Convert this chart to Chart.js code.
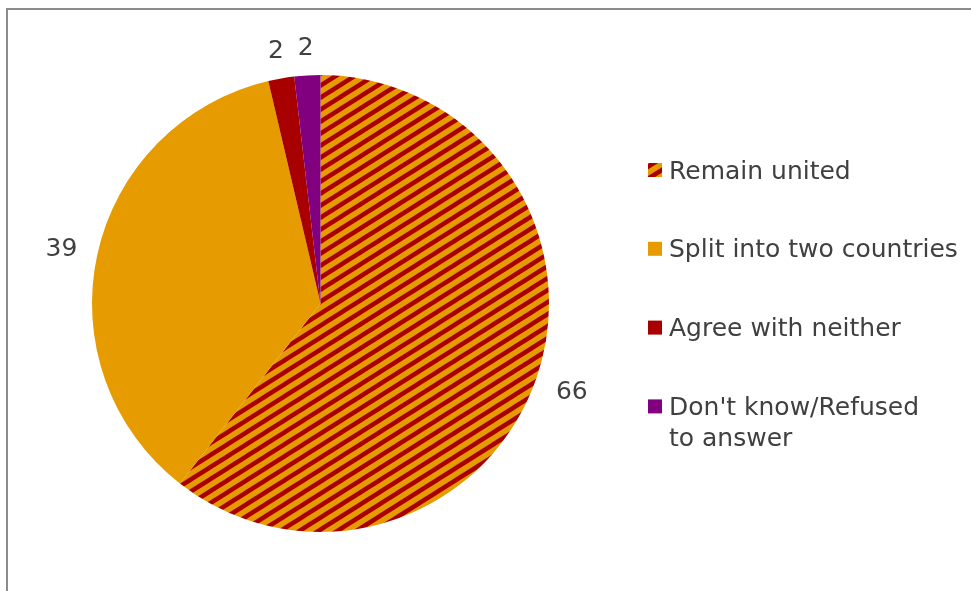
<!DOCTYPE html>
<html lang="en">
<head>
<meta charset="UTF-8" />
<title>Remain united or split</title>
<script src="https://cdn.jsdelivr.net/npm/chart.js"></script>
<style>
  html, body { margin: 0; padding: 0; background: #fff; }
  #wrap { position: relative; width: 971px; height: 591px; overflow: hidden; }
  #frame { position: absolute; left: 6px; top: 8px; width: 1000px; height: 700px; border: 2px solid #8c8c8c; }
  canvas { position: absolute; left: 0; top: 0; }
</style>
</head>
<body>
<div id="wrap">
  <div id="frame"></div>
  <canvas id="pie" width="971" height="591"></canvas>
</div>
<script>
// multi-line labels are arrays, as Chart.js expects
const labels = ["Remain united", "Split into two countries", "Agree with neither", ["Don't know/Refused", "to answer"]];
const values = [66, 39, 2, 2];

const ORANGE = "#e69b00";
const RED = "#a80000";
const PURPLE = "#800080";
const TEXT = "#404040";
const FONT = "25px 'DejaVu Sans'";

// diagonal stripes like the office "wide upward diagonal" fill
function stripes() {
  const W = 19, H = 12;
  const c = document.createElement("canvas");
  c.width = W; c.height = H;
  const g = c.getContext("2d");
  g.fillStyle = ORANGE;
  g.fillRect(0, 0, W, H);
  g.strokeStyle = RED;
  g.lineWidth = 4.5;
  for (let n = -1; n <= 3; n++) {
    g.beginPath();
    g.moveTo(-W, H * (n + 1));
    g.lineTo(2 * W, H * (n - 2));
    g.stroke();
  }
  return g.createPattern(c, "repeat");
}

const colors = [stripes(), ORANGE, RED, PURPLE];

const outsideLabels = {
  id: "outsideLabels",
  afterDatasetsDraw(chart) {
    const ctx = chart.ctx;
    const meta = chart.getDatasetMeta(0);
    ctx.save();
    ctx.font = FONT;
    ctx.fillStyle = TEXT;
    ctx.textAlign = "center";
    ctx.textBaseline = "middle";
    meta.data.forEach((arc, i) => {
      const p = arc.getProps(["x", "y", "startAngle", "endAngle", "outerRadius"], true);
      const mid = (p.startAngle + p.endAngle) / 2;
      const dx = Math.cos(mid), dy = Math.sin(mid);
      const txt = String(values[i]);
      const w = ctx.measureText(txt).width;
      const ext = Math.abs(dx) * w / 2 + Math.abs(dy) * 10;
      const d = p.outerRadius + 19 + ext;
      ctx.fillText(txt, p.x + dx * d, p.y + dy * d + 3);
    });
    ctx.restore();
  }
};

const sideLegend = {
  id: "sideLegend",
  afterDraw(chart) {
    const ctx = chart.ctx;
    ctx.save();
    ctx.font = FONT;
    ctx.textBaseline = "middle";
    let y = 170;
    chart.data.labels.forEach((lab, i) => {
      ctx.fillStyle = chart.data.datasets[0].backgroundColor[i];
      ctx.fillRect(648, y - 7, 14, 14);
      ctx.fillStyle = TEXT;
      const lines = Array.isArray(lab) ? lab : [lab];
      lines.forEach((ln, j) => ctx.fillText(ln, 669, y + 2 + j * 31));
      y += 78.8;
    });
    ctx.restore();
  }
};

new Chart(document.getElementById("pie"), {
  type: "pie",
  data: {
    labels: labels,
    datasets: [{
      data: values,
      backgroundColor: colors,
      borderWidth: 0
    }]
  },
  options: {
    responsive: false,
    animation: false,
    layout: { padding: { left: 92, right: 422, top: 75, bottom: 59 } },
    plugins: {
      legend: { display: false },
      tooltip: { enabled: false }
    }
  },
  plugins: [outsideLabels, sideLegend]
});
</script>
</body>
</html>
